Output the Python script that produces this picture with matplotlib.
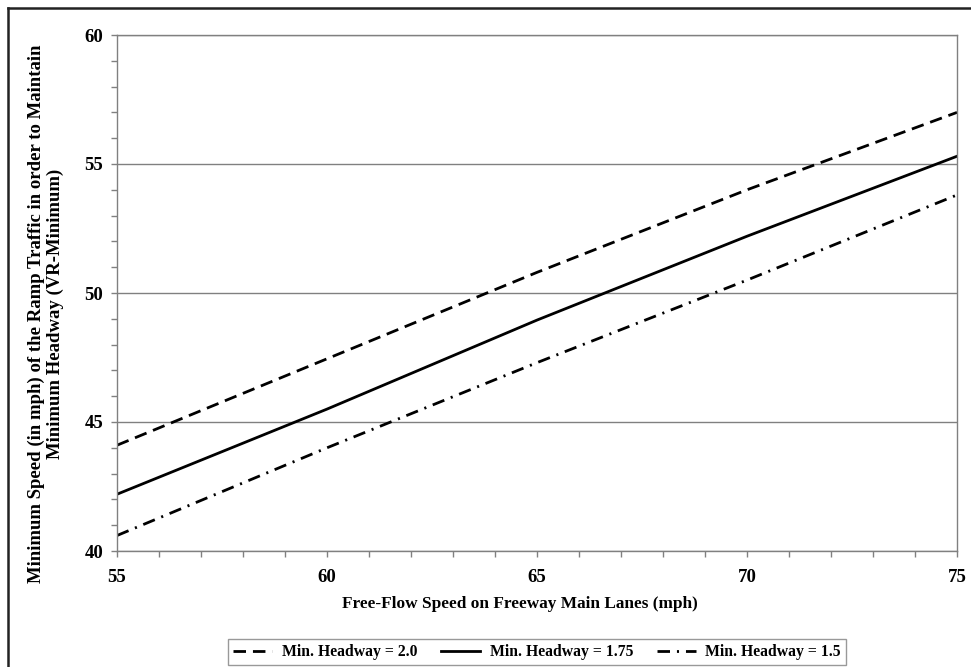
import matplotlib
matplotlib.use("Agg")
import matplotlib.pyplot as plt
from matplotlib.lines import Line2D
from matplotlib.ticker import MultipleLocator

# Data
free_flow_speed = [55, 60, 65, 70, 75]
headway_2_0 = [44.1, 47.45, 50.8, 54.0, 57.0]
headway_1_75 = [42.2, 45.5, 48.95, 52.2, 55.3]
headway_1_5 = [40.6, 44.0, 47.3, 50.5, 53.8]
series_labels = ["Min. Headway = 2.0", "Min. Headway = 1.75", "Min. Headway = 1.5"]

plt.rcParams['font.family'] = ['Liberation Serif', 'DejaVu Serif']
plt.rcParams['font.weight'] = 'bold'
plt.rcParams['lines.scale_dashes'] = False

fig = plt.figure(figsize=(9.71, 6.67), dpi=100)
ax = fig.add_axes([117/971, 1-551/667, (957-117)/971, (551-35)/667])

lw = 2.0
ax.plot(free_flow_speed, headway_2_0, color='black', lw=lw, linestyle=(0, (9, 5)), label=series_labels[0])
ax.plot(free_flow_speed, headway_1_75, color='black', lw=lw, linestyle='-', label=series_labels[1])
ax.plot(free_flow_speed, headway_1_5, color='black', lw=lw, linestyle=(0, (9, 5, 1.5, 5)), label=series_labels[2])

ax.set_xlim(55, 75)
ax.set_ylim(40, 60)
ax.xaxis.set_major_locator(MultipleLocator(5))
ax.xaxis.set_minor_locator(MultipleLocator(1))
ax.yaxis.set_major_locator(MultipleLocator(5))
ax.yaxis.set_minor_locator(MultipleLocator(1))

ax.yaxis.grid(True, which='major', color='#808080', lw=1.0)
ax.set_axisbelow(True)
for s in ['left', 'bottom', 'right', 'top']:
    ax.spines[s].set_color('#808080')
    ax.spines[s].set_linewidth(1.0)

ax.tick_params(axis='both', which='both', direction='out', color='#808080', width=1.0)
ax.tick_params(axis='both', which='major', length=4, labelsize=13.5)
ax.tick_params(axis='both', which='minor', length=4)
ax.tick_params(axis='y', which='major', pad=6)
ax.tick_params(axis='x', which='major', pad=9)
for lab in ax.get_xticklabels() + ax.get_yticklabels():
    lab.set_fontweight('bold')

ax.set_xlabel("Free-Flow Speed on Freeway Main Lanes (mph)", fontsize=12.4, fontweight='bold')
ax.xaxis.label.set_va('center')
ax.xaxis.set_label_coords((520-117)/840, (551-604)/516)

ax.set_ylabel("Minimum Speed (in mph) of the Ramp Traffic in order to Maintain\nMinimum Headway (VR-Minimum)",
              fontsize=13.5, fontweight='bold', linespacing=1.1)
ax.yaxis.label.set_va('center')
ax.yaxis.set_label_coords((46-117)/840, (551-314)/516)

leg = ax.legend(loc='center', bbox_to_anchor=(0.5, (551-652)/516), ncol=3, frameon=True,
                fancybox=False, edgecolor='#808080', prop={'weight': 'bold', 'size': 11.3},
                handlelength=2.5, columnspacing=1.5, handletextpad=0.6, borderpad=0.35)
leg.get_frame().set_linewidth(1.0)

# outer frame (top and left edges)
fig.add_artist(Line2D([8/971, 8/971], [0, 1-8/667], transform=fig.transFigure, color='#222222', lw=1.8))
fig.add_artist(Line2D([8/971, 1], [1-8/667, 1-8/667], transform=fig.transFigure, color='#222222', lw=1.8))

fig.savefig("out.png", dpi=100)
